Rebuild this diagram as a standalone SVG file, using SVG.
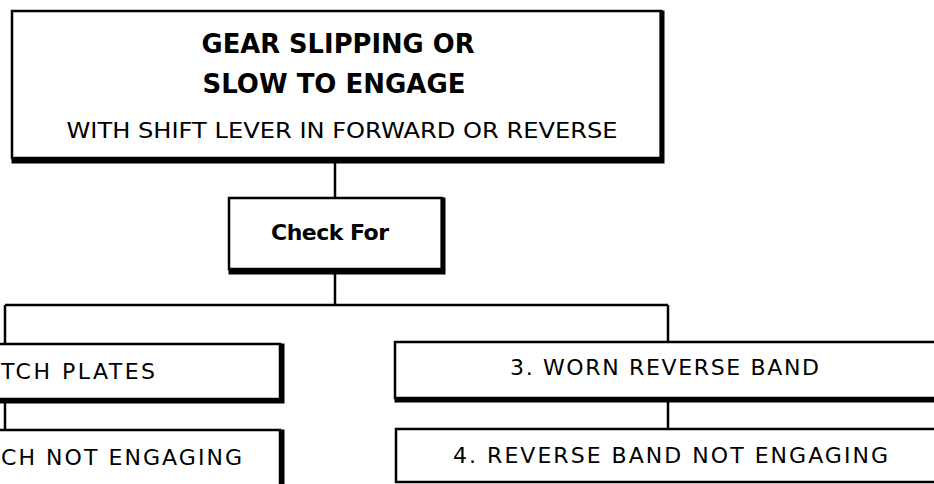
<svg xmlns="http://www.w3.org/2000/svg" width="934" height="484" viewBox="0 0 934 484">
<style>
.box{fill:#fff;stroke:#000;stroke-width:2.5}
.sh{fill:none;stroke:#000;stroke-width:5;stroke-linecap:square}
.ln{fill:none;stroke:#000;stroke-width:2.5}
text{font-family:"DejaVu Sans","Liberation Sans",Arial,sans-serif;fill:#000}
.t{font-size:22px}
.b{font-weight:bold}
</style>
<rect width="934" height="484" fill="#fff"/>
<g id="connectors">
<path class="ln" d="M335,160 V197"/>
<path class="ln" d="M335,272 V305 M5,305 H668 M5,305 V344 M668,305 V342"/>
<path class="ln" d="M5,402 V429"/>
<path class="ln" d="M668,401 V428"/>
</g>
<g id="top">
<rect class="box" x="12" y="11" width="649" height="147"/>
<path class="sh" d="M14,161 H662 V13"/>
<text class="b" x="338" y="53" font-size="26" text-anchor="middle" textLength="273" lengthAdjust="spacingAndGlyphs">GEAR SLIPPING OR</text>
<text class="b" x="334" y="93" font-size="26" text-anchor="middle" textLength="263" lengthAdjust="spacingAndGlyphs">SLOW TO ENGAGE</text>
<text x="342" y="138" font-size="22" text-anchor="middle" textLength="551" lengthAdjust="spacingAndGlyphs">WITH SHIFT LEVER IN FORWARD OR REVERSE</text>
</g>
<g id="check">
<rect class="box" x="229" y="198" width="213" height="71"/>
<path class="sh" d="M231,272 H443 V200"/>
<text class="b" x="330" y="240" font-size="22" text-anchor="middle" textLength="118" lengthAdjust="spacing">Check For</text>
</g>
<g id="n1">
<rect class="box" x="-10" y="344" width="290" height="55"/>
<path class="sh" d="M-8,401 H282 V346"/>
<text class="t" x="1" y="379" textLength="154" lengthAdjust="spacing">TCH PLATES</text>
</g>
<g id="n2">
<rect class="box" x="-10" y="430" width="290" height="60"/>
<path class="sh" d="M282,432 V490"/>
<text class="t" x="1" y="465" textLength="241" lengthAdjust="spacing">CH NOT ENGAGING</text>
</g>
<g id="n3">
<rect class="box" x="395" y="342" width="560" height="56"/>
<path class="sh" d="M397,400 H960"/>
<text class="t" x="510" y="375" textLength="309" lengthAdjust="spacing">3. WORN REVERSE BAND</text>
</g>
<g id="n4">
<rect class="box" x="396" y="429" width="560" height="53"/>
<text class="t" x="453" y="463" textLength="435" lengthAdjust="spacing">4. REVERSE BAND NOT ENGAGING</text>
</g>
</svg>
